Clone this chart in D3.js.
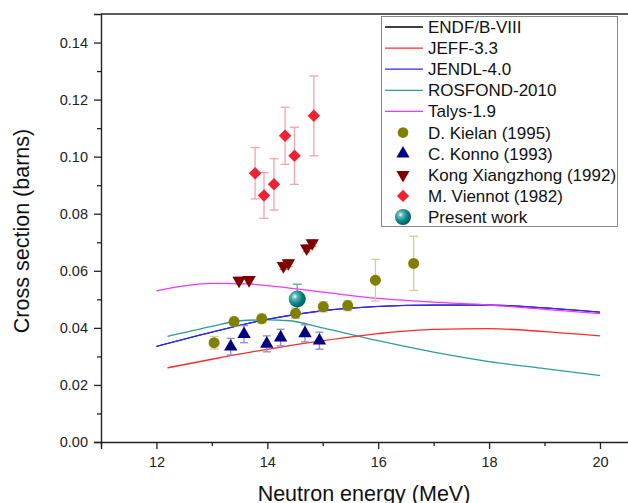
<!DOCTYPE html>
<html>
<head>
<meta charset="utf-8">
<script src="https://d3js.org/d3.v7.min.js"></script>
<style>
  body { margin: 0; background: #fff; }
  text { font-family: "Liberation Sans", Arial, sans-serif; }
</style>
</head>
<body>
<div id="chart"></div>
<script>
// evaluated data curves (energy MeV, cross section barns)
const curveE_endf   = [12, 13, 14, 15, 16, 17, 18, 19, 20];
const curveY_endf   = [0.0335, 0.0385, 0.043, 0.046, 0.0475, 0.048, 0.048, 0.047, 0.0455];
const curveE_jeff   = [12.2, 13, 14, 15, 16, 17, 18, 19, 20];
const curveY_jeff   = [0.026, 0.029, 0.0325, 0.0355, 0.038, 0.0395, 0.0397, 0.0387, 0.0372];
const curveE_jendl  = [12, 13, 14, 15, 16, 17, 18, 19, 20];
const curveY_jendl  = [0.0335, 0.0385, 0.043, 0.046, 0.0475, 0.048, 0.048, 0.047, 0.0455];
const curveE_ros    = [12.2, 13, 13.5, 14, 14.4, 15, 16, 17, 18, 19, 20];
const curveY_ros    = [0.037, 0.0405, 0.0425, 0.0428, 0.0425, 0.040, 0.0355, 0.0315, 0.0282, 0.0257, 0.0233];
const curveE_talys  = [12, 12.5, 13, 13.5, 14, 15, 16, 17, 18, 19, 20];
const curveY_talys  = [0.053, 0.0547, 0.0556, 0.0555, 0.0548, 0.0525, 0.0503, 0.049, 0.048, 0.0465, 0.045];

// experimental data
const kielanE   = [13.04, 13.40, 13.90, 14.51, 15.01, 15.45, 15.95, 16.64];
const kielanY   = [0.0348, 0.0422, 0.0432, 0.0451, 0.0474, 0.0478, 0.0567, 0.0626];
const kielanErr = [0.0022, 0.0015, 0.0016, 0.0018, 0.0018, 0.0018, 0.0073, 0.0095];

const konnoE   = [13.34, 13.58, 13.99, 14.24, 14.68, 14.94];
const konnoY   = [0.0334, 0.0378, 0.0344, 0.0366, 0.0381, 0.0355];
const konnoErr = [0.0029, 0.003, 0.0028, 0.0029, 0.003, 0.003];

const kongE   = [13.49, 13.67, 14.29, 14.38, 14.71, 14.81];
const kongY   = [0.0566, 0.0568, 0.0617, 0.0627, 0.0679, 0.0697];
const kongErr = [0.0012, 0.0012, 0.0012, 0.0012, 0.0012, 0.0012];

const viennotE   = [13.78, 13.94, 14.12, 14.32, 14.49, 14.84];
const viennotY   = [0.0942, 0.0864, 0.0903, 0.1073, 0.1003, 0.1143];
const viennotErr = [0.009, 0.008, 0.009, 0.010, 0.010, 0.014];

const presentE   = [14.54];
const presentY   = [0.0501];
const presentErr = [0.0052];

const xTicks = [12, 14, 16, 18, 20];
const yTicks = [0.00, 0.02, 0.04, 0.06, 0.08, 0.10, 0.12, 0.14];

const legendLabels = ["ENDF/B-VIII", "JEFF-3.3", "JENDL-4.0", "ROSFOND-2010", "Talys-1.9",
  "D. Kielan (1995)", "C. Konno (1993)", "Kong Xiangzhong (1992)", "M. Viennot (1982)", "Present work"];

const width = 628, height = 503;
const margin = { top: 14, left: 101, bottom: 61 };

const svg = d3.select("#chart").append("svg")
  .attr("width", width)
  .attr("height", height);

const x = d3.scaleLinear().domain([11, 21]).range([margin.left, 655.4]);
const y = d3.scaleLinear().domain([0, 0.15]).range([height - margin.bottom, margin.top]);

const defs = svg.append("defs");
const grad = defs.append("radialGradient").attr("id", "sphere")
  .attr("cx", "35%").attr("cy", "35%").attr("r", "65%");
grad.append("stop").attr("offset", "0%").attr("stop-color", "#ffffff");
grad.append("stop").attr("offset", "25%").attr("stop-color", "#5fb7b7");
grad.append("stop").attr("offset", "70%").attr("stop-color", "#008080");
grad.append("stop").attr("offset", "100%").attr("stop-color", "#005e5e");

// axes
const axisColor = "#222";
const xAxis = svg.append("g")
  .attr("transform", `translate(0,${y(0)})`)
  .call(d3.axisBottom(x).tickValues(xTicks).tickSize(7).tickPadding(8).tickFormat(d3.format("d")));
const xMinor = svg.append("g")
  .attr("transform", `translate(0,${y(0)})`)
  .call(d3.axisBottom(x).tickValues([11, 13, 15, 17, 19]).tickSize(4).tickFormat(""));
xMinor.select(".domain").remove();

const yAxis = svg.append("g")
  .attr("transform", `translate(${margin.left},0)`)
  .call(d3.axisLeft(y).tickValues(yTicks).tickSize(7).tickPadding(6).tickFormat(d3.format(".2f")));
const yMinor = svg.append("g")
  .attr("transform", `translate(${margin.left},0)`)
  .call(d3.axisLeft(y).tickValues([0.01, 0.03, 0.05, 0.07, 0.09, 0.11, 0.13]).tickSize(4).tickFormat(""));
yMinor.select(".domain").remove();

[xAxis, yAxis].forEach(g => {
  g.select(".domain").attr("stroke", axisColor).attr("stroke-width", 1.4);
  g.selectAll("text").attr("font-size", 14.5).attr("fill", "#222")
    .style("font-family", "'Liberation Sans', Arial, sans-serif");
});
[xAxis, yAxis, xMinor, yMinor].forEach(g => g.selectAll("line").attr("stroke", axisColor).attr("stroke-width", 1.3));

// top frame line
svg.append("line")
  .attr("x1", x(11)).attr("x2", width)
  .attr("y1", y(0.15)).attr("y2", y(0.15))
  .attr("stroke", axisColor).attr("stroke-width", 1.4);

svg.append("text")
  .attr("x", 364).attr("y", 501)
  .attr("text-anchor", "middle")
  .attr("font-size", 21.5)
  .attr("fill", "#111")
  .text("Neutron energy (MeV)");

svg.append("text")
  .attr("transform", "translate(29,231) rotate(-90)")
  .attr("text-anchor", "middle")
  .attr("font-size", 21.5)
  .attr("fill", "#111")
  .text("Cross section (barns)");

// curves (ENDF drawn first, hidden under JENDL as in the original)
const line = d3.line().x(d => x(d[0])).y(d => y(d[1])).curve(d3.curveMonotoneX);
const curves = [
  { e: curveE_endf, v: curveY_endf, color: "#000000" },
  { e: curveE_ros, v: curveY_ros, color: "#2e9c96" },
  { e: curveE_jeff, v: curveY_jeff, color: "#ff2a2a" },
  { e: curveE_jendl, v: curveY_jendl, color: "#2a2aff" },
  { e: curveE_talys, v: curveY_talys, color: "#ff33ff" }
];
svg.append("g").selectAll("path")
  .data(curves)
  .join("path")
  .attr("d", c => line(d3.zip(c.e, c.v)))
  .attr("fill", "none")
  .attr("stroke", c => c.color)
  .attr("stroke-width", c => c.color === "#000000" ? 1.0 : 1.3);

// error bars + markers
function errorBars(es, vs, errs, color, cap) {
  const data = d3.zip(es, vs, errs);
  const g = svg.append("g").attr("stroke", color).attr("stroke-width", 1.3);
  g.selectAll(".v").data(data).join("line")
    .attr("x1", d => x(d[0])).attr("x2", d => x(d[0]))
    .attr("y1", d => y(d[1] + d[2])).attr("y2", d => y(d[1] - d[2]));
  g.selectAll(".t").data(data).join("line")
    .attr("x1", d => x(d[0]) - cap).attr("x2", d => x(d[0]) + cap)
    .attr("y1", d => y(d[1] + d[2])).attr("y2", d => y(d[1] + d[2]));
  g.selectAll(".b").data(data).join("line")
    .attr("x1", d => x(d[0]) - cap).attr("x2", d => x(d[0]) + cap)
    .attr("y1", d => y(d[1] - d[2])).attr("y2", d => y(d[1] - d[2]));
}

function markers(es, vs, symType, size, color, rot) {
  svg.append("g").selectAll("path")
    .data(d3.zip(es, vs))
    .join("path")
    .attr("transform", d => `translate(${x(d[0])},${y(d[1])}) rotate(${rot})`)
    .attr("d", d3.symbol().type(symType).size(size))
    .attr("fill", color);
}

errorBars(kielanE, kielanY, kielanErr, "#cfcf9a", 4.5);
errorBars(konnoE, konnoY, konnoErr, "#8c8cd0", 4);
errorBars(kongE, kongY, kongErr, "#cc8c8c", 4);
errorBars(viennotE, viennotY, viennotErr, "#f5a3ab", 4.5);
errorBars(presentE, presentY, presentErr, "#5aa8a8", 4.5);

markers(kielanE, kielanY, d3.symbolCircle, 95, "#808000", 0);
markers(konnoE, konnoY, d3.symbolTriangle, 78, "#000080", 0);
markers(kongE, kongY, d3.symbolTriangle, 78, "#800000", 180);
markers(viennotE, viennotY, d3.symbolSquare, 78, "#ee2233", 45);

svg.append("g").selectAll("circle")
  .data(d3.zip(presentE, presentY))
  .join("circle")
  .attr("cx", d => x(d[0])).attr("cy", d => y(d[1]))
  .attr("r", 8.5)
  .attr("fill", "url(#sphere)");

// legend
const legend = svg.append("g");
legend.append("rect")
  .attr("x", 381.5).attr("y", 16.5).attr("width", 236).attr("height", 210)
  .attr("fill", "#fff").attr("stroke", "#888").attr("stroke-width", 1);

const legendKinds = [
  { kind: "line", color: "#000000" },
  { kind: "line", color: "#ff2a2a" },
  { kind: "line", color: "#2a2aff" },
  { kind: "line", color: "#2e9c96" },
  { kind: "line", color: "#ff33ff" },
  { kind: "sym", type: d3.symbolCircle, size: 90, color: "#808000", rot: 0 },
  { kind: "sym", type: d3.symbolTriangle, size: 75, color: "#000080", rot: 0 },
  { kind: "sym", type: d3.symbolTriangle, size: 75, color: "#800000", rot: 180 },
  { kind: "sym", type: d3.symbolSquare, size: 75, color: "#ee2233", rot: 45 },
  { kind: "sphere" }
];

const ly = d3.scaleLinear().domain([0, 9]).range([27, 217]);
const rows = legend.selectAll(".row")
  .data(legendLabels)
  .join("g")
  .attr("transform", (d, i) => `translate(0,${ly(i)})`);

rows.each(function (d, i) {
  const g = d3.select(this);
  const k = legendKinds[i];
  if (k.kind === "line") {
    g.append("line").attr("x1", 385).attr("x2", 423).attr("y1", 0).attr("y2", 0)
      .attr("stroke", k.color).attr("stroke-width", 1.3);
  } else if (k.kind === "sym") {
    g.append("path")
      .attr("transform", `translate(403,0) rotate(${k.rot})`)
      .attr("d", d3.symbol().type(k.type).size(k.size))
      .attr("fill", k.color);
  } else {
    g.append("circle").attr("cx", 403).attr("cy", 0).attr("r", 8).attr("fill", "url(#sphere)");
  }
  g.append("text")
    .attr("x", 428).attr("y", 0).attr("dy", "0.35em")
    .attr("font-size", 17)
    .attr("fill", "#111")
    .text(d);
});
</script>
</body>
</html>
